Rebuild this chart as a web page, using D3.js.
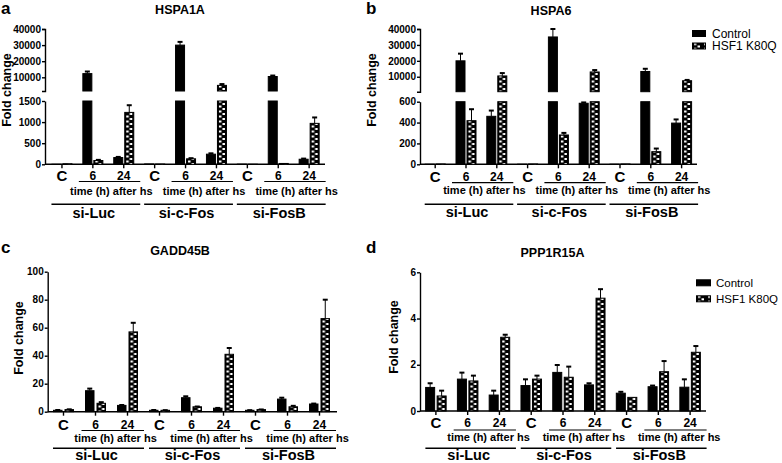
<!DOCTYPE html>
<html><head><meta charset="utf-8">
<script src="https://cdn.jsdelivr.net/npm/d3@7"></script>
<style>
body{margin:0;background:#fff}
svg{display:block;font-family:"Liberation Sans",Arial,Helvetica,sans-serif}
</style>
</head><body>
<svg id="chart" width="782" height="463"></svg>
<script>
// ---------- data ----------
const groups = ["si-Luc", "si-c-Fos", "si-FosB"];
const timePoints = ["C", "6", "24"];
const seriesNames = ["Control", "HSF1 K80Q"];
const timeCaption = "time (h) after hs";
const yTitle = "Fold change";

// HSPA1A (a)
const hspa1aControl   = [1, 12300, 160, 8, 30000, 240, 4, 10500, 120];
const hspa1aControlSd = [0, 1300, 15, 0, 2000, 20, 0, 600, 15];
const hspa1aK80Q      = [12, 90, 1230, 6, 130, 5000, 2, 20, 970];
const hspa1aK80QSd    = [0, 15, 170, 0, 15, 800, 0, 0, 140];
const hspa1aLowTicks  = [0, 500, 1000, 1500];
const hspa1aHighTicks = [10000, 20000, 30000, 40000];

// HSPA6 (b)
const hspa6Control   = [1, 20000, 460, 1, 35000, 585, 1, 13300, 395];
const hspa6ControlSd = [0, 4500, 55, 0, 5000, 8, 0, 1700, 35];
const hspa6K80Q      = [3, 418, 10500, 3, 281, 13000, 3, 121, 7500];
const hspa6K80QSd    = [0, 110, 1800, 0, 20, 1200, 0, 30, 500];
const hspa6LowTicks  = [0, 200, 400, 600];
const hspa6HighTicks = [10000, 20000, 30000, 40000];

// GADD45B (c)
const gadd45bControl   = [1, 15, 4.5, 1, 10, 2.5, 1, 9, 5.5];
const gadd45bControlSd = [0.2, 1.5, 0.3, 0.2, 1, 0.2, 0.1, 1, 0.3];
const gadd45bK80Q      = [1.5, 6, 57, 1, 3.5, 41, 1.5, 3.5, 66.5];
const gadd45bK80QSd    = [0.2, 0.8, 6.5, 0.1, 0.2, 4.5, 0.1, 0.7, 13.5];
const gadd45bTicks     = [0, 20, 40, 60, 80, 100];

// PPP1R15A (d)
const ppp1r15aControl   = [1.02, 1.38, 0.69, 1.10, 1.67, 1.13, 0.77, 1.05, 1.03];
const ppp1r15aControlSd = [0.18, 0.28, 0.19, 0.27, 0.32, 0.07, 0.06, 0.05, 0.34];
const ppp1r15aK80Q      = [0.65, 1.30, 3.19, 1.38, 1.46, 4.88, 0.59, 1.70, 2.54];
const ppp1r15aK80QSd    = [0.23, 0.23, 0.11, 0.15, 0.46, 0.39, 0, 0.46, 0.27];
const ppp1r15aTicks     = [0, 2, 4, 6];

// ---------- layout ----------
const panels = [
  { letter: "a", title: "HSPA1A", ctrl: hspa1aControl, ctrlSd: hspa1aControlSd, k80q: hspa1aK80Q, k80qSd: hspa1aK80QSd,
    axisX: 45, xRange: [46.5, 324.6], xEnd: 325, barW: 10, gap: 1,
    segments: [
      { domain: [0, 1500], range: [164.3, 101], ticks: hspa1aLowTicks, outer: 0 },
      { domain: [1500, 40000], range: [91, 29], ticks: hspa1aHighTicks, outer: 3 }],
    letterPos: [1, 13.5], titlePos: [180, 14], yTitlePos: [11, 90],
    lab: { cY: 180.5, nY: 179.5, underY: 181.5, timeY: 195, lineY: 204.3, grpY: 218.3, timeDx: 3 },
    legend: null },
  { letter: "b", title: "HSPA6", ctrl: hspa6Control, ctrlSd: hspa6ControlSd, k80q: hspa6K80Q, k80qSd: hspa6K80QSd,
    axisX: 420, xRange: [419.8, 697], xEnd: 697, barW: 10, gap: 1,
    segments: [
      { domain: [0, 600], range: [164.3, 101.7], ticks: hspa6LowTicks, outer: 0 },
      { domain: [600, 40000], range: [91.7, 29], ticks: hspa6HighTicks, outer: 3 }],
    letterPos: [366, 13.5], titlePos: [551, 14.5], yTitlePos: [376, 90],
    lab: { cY: 182, nY: 180.5, underY: 182.7, timeY: 193.5, lineY: 204.3, grpY: 216.8, timeDx: 3 },
    legend: { x: 692, y: 30, dy: 12.5, w: 14, h: 7, tx: 712, fs: 12 } },
  { letter: "c", title: "GADD45B", ctrl: gadd45bControl, ctrlSd: gadd45bControlSd, k80q: gadd45bK80Q, k80qSd: gadd45bK80QSd,
    axisX: 47.7, xRange: [47.5, 335.5], xEnd: 337, barW: 9.5, gap: 2,
    segments: [
      { domain: [0, 100], range: [411.7, 271.7], ticks: gadd45bTicks, outer: 0 }],
    letterPos: [1, 252.7], titlePos: [180, 255], yTitlePos: [22.5, 338],
    lab: { cY: 429.5, nY: 429, underY: 430.5, timeY: 441.5, lineY: 448.3, grpY: 460, timeDx: 4 },
    legend: null },
  { letter: "d", title: "PPP1R15A", ctrl: ppp1r15aControl, ctrlSd: ppp1r15aControlSd, k80q: ppp1r15aK80Q, k80qSd: ppp1r15aK80QSd,
    axisX: 420, xRange: [420, 706], xEnd: 706, barW: 10, gap: 1.5,
    segments: [
      { domain: [0, 6], range: [411, 272.3], ticks: ppp1r15aTicks, outer: 0 }],
    letterPos: [366, 253], titlePos: [552.5, 257], yTitlePos: [398, 337],
    lab: { cY: 427.5, nY: 427.3, underY: 430, timeY: 440.5, lineY: 448.3, grpY: 460, timeDx: 5 },
    legend: { x: 696, y: 279.3, dy: 16, w: 15, h: 7, tx: 716, fs: 11.5 } }
];

// ---------- drawing ----------
const svg = d3.select("#chart");
const defs = svg.append("defs");
const pat = defs.append("pattern").attr("id", "k80q").attr("patternUnits", "userSpaceOnUse")
  .attr("width", 10).attr("height", 5);
pat.append("rect").attr("width", 10).attr("height", 5).attr("fill", "#000");
pat.append("rect").attr("x", 2).attr("y", 0.5).attr("width", 2.5).attr("height", 2).attr("fill", "#fff");
pat.append("rect").attr("x", 5.5).attr("y", 3).attr("width", 2.5).attr("height", 2).attr("fill", "#fff");

function styleAxis(sel) {
  sel.selectAll("path.domain").attr("stroke", "#000").attr("stroke-width", 1.4);
  sel.selectAll(".tick line").attr("stroke", "#000").attr("stroke-width", 1.4);
  sel.selectAll(".tick text").attr("fill", "#000").style("font-size", "10px").style("font-weight", "bold")
    .style("font-family", '"Liberation Sans",Arial,sans-serif');
}

function drawPanel(p) {
  const g = svg.append("g");
  const cats = d3.cross(groups, timePoints, (a, b) => a + "|" + b);
  const x = d3.scaleBand().domain(cats).range(p.xRange);
  const half = p.barW + p.gap / 2;
  const xs = d3.scaleBand().domain(seriesNames).range([-half, half]).paddingInner(p.gap / (p.barW + p.gap));
  const cx = c => x(c) + x.bandwidth() / 2;

  // y axes (possibly broken)
  p.segments.forEach(s => {
    s.scale = d3.scaleLinear().domain(s.domain).range(s.range);
    const ax = d3.axisLeft(s.scale).tickValues(s.ticks).tickSize(3).tickPadding(1)
      .tickSizeOuter(s.outer).tickFormat(d3.format("d"));
    const ga = g.append("g").attr("transform", `translate(${p.axisX},0)`).call(ax);
    styleAxis(ga);
  });

  // x axis
  const base = p.segments[0].range[0];
  const xa = g.append("g").attr("transform", `translate(0,${base})`)
    .call(d3.axisBottom(x).tickSize(4).tickSizeOuter(0).tickFormat(""));
  xa.select("path.domain").attr("d", `M${p.axisX},0H${p.xEnd}`);
  styleAxis(xa);

  // bars
  const rows = [];
  cats.forEach((c, i) => {
    rows.push({ c, s: seriesNames[0], v: p.ctrl[i], sd: p.ctrlSd[i] });
    rows.push({ c, s: seriesNames[1], v: p.k80q[i], sd: p.k80qSd[i] });
  });
  rows.forEach(d => {
    const bx = cx(d.c) + xs(d.s);
    const bg = g.append("g").attr("transform", `translate(${bx},0)`);
    p.segments.forEach(s => {
      const lo = s.domain[0], hi = s.domain[1];
      if (lo > 0 && d.v <= lo) return;
      const top = Math.min(d.v, hi);
      bg.append("rect").attr("x", 0.5).attr("width", p.barW - 1)
        .attr("y", s.scale(top)).attr("height", Math.max(0, s.scale(lo) - s.scale(top)))
        .attr("fill", d.s === seriesNames[0] ? "#000" : "url(#k80q)")
        .attr("stroke", "#000").attr("stroke-width", 1);
    });
    if (d.sd > 0) {
      const seg = p.segments.find(s => d.v >= s.domain[0] && d.v <= s.domain[1]) || p.segments[p.segments.length - 1];
      const y0 = seg.scale(d.v), y1 = seg.scale(d.v + d.sd);
      const mx = p.barW / 2;
      bg.append("line").attr("x1", mx).attr("x2", mx).attr("y1", y0).attr("y2", y1)
        .attr("stroke", "#000").attr("stroke-width", 1);
      bg.append("line").attr("x1", mx - 2.5).attr("x2", mx + 2.5).attr("y1", y1).attr("y2", y1)
        .attr("stroke", "#000").attr("stroke-width", 2);
    }
  });

  // category labels and group annotations
  groups.forEach(gr => {
    const cC = cx(gr + "|C"), c6 = cx(gr + "|6"), c24 = cx(gr + "|24");
    g.append("text").attr("x", cC).attr("y", p.lab.cY).attr("text-anchor", "middle")
      .style("font-size", "15px").style("font-weight", "bold").text(timePoints[0]);
    [[c6, timePoints[1]], [c24, timePoints[2]]].forEach(([px, t]) => {
      g.append("text").attr("x", px).attr("y", p.lab.nY).attr("text-anchor", "middle")
        .style("font-size", "12px").style("font-weight", "bold").text(t);
    });
    const u0 = c6 - 14, u1 = c24 + 16.5;
    g.append("line").attr("x1", u0).attr("x2", u1).attr("y1", p.lab.underY).attr("y2", p.lab.underY)
      .attr("stroke", "#000").attr("stroke-width", 1.2);
    g.append("text").attr("x", (c6 + c24) / 2 + p.lab.timeDx).attr("y", p.lab.timeY).attr("text-anchor", "middle")
      .style("font-size", "11px").style("font-weight", "bold").text(timeCaption);
    const l0 = cC - 10.5, l1 = c24 + 16.5;
    g.append("line").attr("x1", l0).attr("x2", l1).attr("y1", p.lab.lineY).attr("y2", p.lab.lineY)
      .attr("stroke", "#000").attr("stroke-width", 1.6);
    g.append("text").attr("x", (l0 + l1) / 2 - 2).attr("y", p.lab.grpY).attr("text-anchor", "middle")
      .style("font-size", "14.5px").style("font-weight", "bold").text(gr);
  });

  // titles
  g.append("text").attr("x", p.letterPos[0]).attr("y", p.letterPos[1])
    .style("font-size", "17px").style("font-weight", "bold").text(p.letter);
  g.append("text").attr("x", p.titlePos[0]).attr("y", p.titlePos[1]).attr("text-anchor", "middle")
    .style("font-size", "12.5px").style("font-weight", "bold").text(p.title);
  g.append("text").attr("transform", `translate(${p.yTitlePos[0]},${p.yTitlePos[1]}) rotate(-90)`)
    .attr("text-anchor", "middle").style("font-size", "12.5px").style("font-weight", "bold").text(yTitle);

  // legend
  if (p.legend) {
    const L = p.legend;
    seriesNames.forEach((name, i) => {
      const y = L.y + i * L.dy;
      const lg = g.append("g").attr("transform", `translate(${L.x},${y})`);
      lg.append("rect").attr("x", 0.5).attr("y", 0.5).attr("width", L.w - 1).attr("height", L.h - 1)
        .attr("fill", i === 0 ? "#000" : "url(#k80q)").attr("stroke", "#000").attr("stroke-width", 1);
      g.append("text").attr("x", L.tx).attr("y", y + L.h / 2 + 4.2)
        .style("font-size", L.fs + "px").text(name);
    });
  }
}

panels.forEach(drawPanel);
</script>
</body></html>
